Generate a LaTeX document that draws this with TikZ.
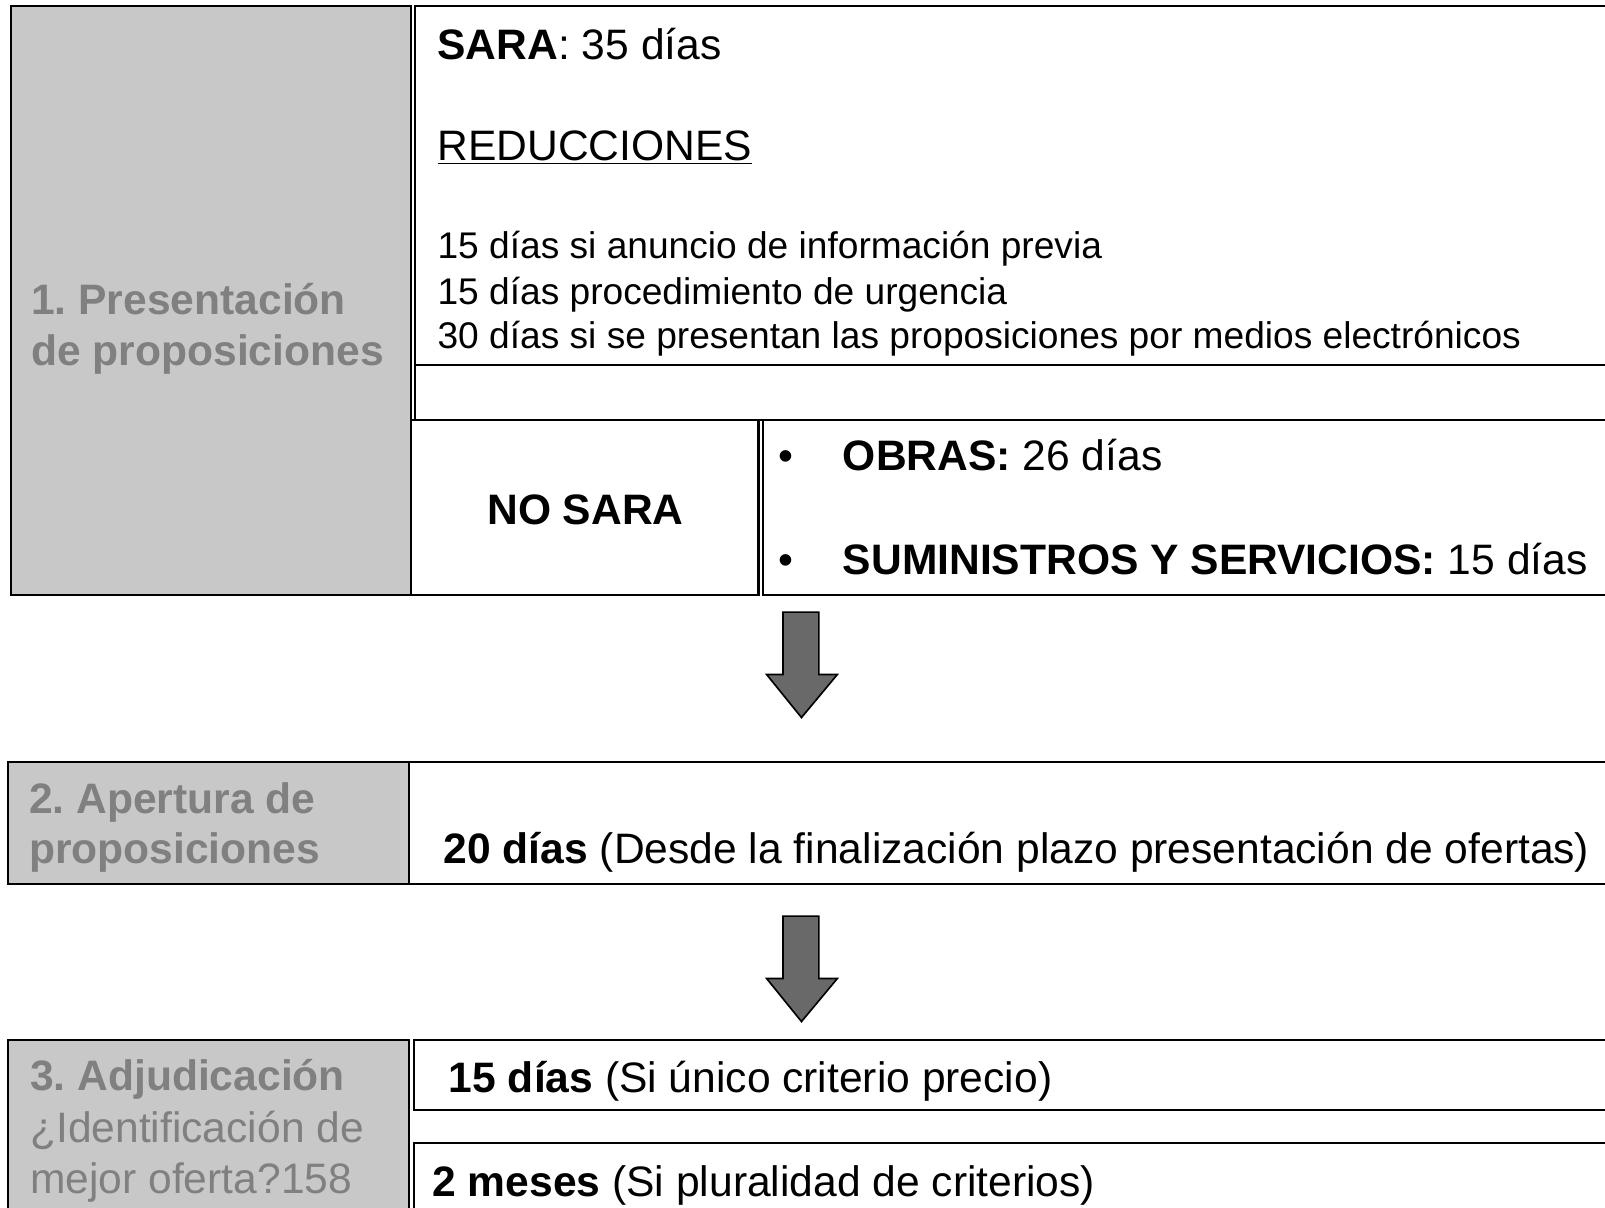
\documentclass[tikz,border=0pt]{standalone}
\usepackage{fontspec}
\setmainfont{Liberation Sans}
\frenchspacing
\definecolor{cellgray}{RGB}{200,200,200}
\definecolor{stagegray}{RGB}{128,128,128}
\definecolor{arrowgray}{RGB}{105,105,105}
\tikzset{every picture/.style={line width=0.75pt}}
\tikzset{
	cell/.style={draw, line width=1.5pt},
	graycell/.style={cell, fill=cellgray},
	bodytext/.style={anchor=base west, inner sep=0pt, font=\fontsize{31.2}{36}\selectfont},
	smalltext/.style={bodytext, font=\fontsize{27.2}{32}\selectfont},
	stagetext/.style={bodytext, text=stagegray},
	blockarrow/.style={draw, fill=arrowgray, line width=1.2pt, line join=miter}}

\begin{document}
\begin{tikzpicture}[x=0.75pt,y=0.75pt,yscale=-1,xscale=1]
	\useasboundingbox (0,0) rectangle (1568,1180);
	\clip (0,0) rectangle (1568,1180);

	%Shape: Rectangle [stage 1]
	\draw[graycell] (11,6) rectangle (401.5,581);
	%Shape: Rectangle [SARA]
	\draw[cell] (405.5,6) rectangle (1580,357);
	\draw[cell] (405.5,6) rectangle (1580,410);
	%Shape: Rectangle [NO SARA]
	\draw[cell] (401.5,410) rectangle (741,581);
	%Shape: Rectangle [bullets]
	\draw[cell] (745.5,410) rectangle (1580,581);

	%Shape: Rectangle [stage 2]
	\draw[graycell] (8,744) rectangle (400,864);
	\draw[cell] (400,744) rectangle (1580,864);

	%Shape: Rectangle [stage 3]
	\draw[graycell] (8,1016) rectangle (400,1200);
	\draw[cell] (404,1016) rectangle (1580,1084);
	\draw[cell] (404,1117) rectangle (1580,1200);

	%Shape: Down Arrow
	\draw[blockarrow] (765,598) -- (800,598) -- (800,659) -- (818,659) -- (783,701) -- (749,659) -- (765,659) -- cycle;
	%Shape: Down Arrow
	\draw[blockarrow] (765,895) -- (800,895) -- (800,956) -- (818,956) -- (783,998) -- (749,956) -- (765,956) -- cycle;

	% Text Node
	\node[stagetext] (stage1a) at (30,307) {\bfseries 1. Presentación};
	\node[stagetext] (stage1b) at (30,357) {\bfseries de proposiciones};
	% Text Node
	\node[bodytext] (sara) at (427,58) {\textbf{SARA}: 35 días};
	\node[bodytext] (reduc) at (427,157) {\underline{REDUCCIONES}};
	\node[smalltext] (red1) at (427,253) {15 días si anuncio de información previa};
	\node[smalltext] (red2) at (427,297) {15 días procedimiento de urgencia};
	\node[smalltext] (red3) at (427,340) {30 días si se presentan las proposiciones por medios electrónicos};
	% Text Node
	\node[bodytext, anchor=base] (nosara) at (572,512) {\bfseries NO SARA};
	\node[bodytext, anchor=base] (bul1) at (768,460) {•};
	\node[bodytext] (obras) at (823,460) {\textbf{OBRAS:} 26 días};
	\node[bodytext, anchor=base] (bul2) at (768,561) {•};
	\node[bodytext] (sumin) at (823,561) {\textbf{SUMINISTROS Y SERVICIOS:} 15 días};

	% Text Node
	\node[stagetext] (stage2a) at (28,795) {\bfseries 2. Apertura de};
	\node[stagetext] (stage2b) at (28,844) {\bfseries proposiciones};
	\node[bodytext] (plazo2) at (433,844) {\textbf{20 días} (Desde la finalización plazo presentación de ofertas)};

	% Text Node
	\node[stagetext] (stage3a) at (29,1065) {\bfseries 3. Adjudicación};
	\node[stagetext] (stage3b) at (29,1116) {¿Identificación de};
	\node[stagetext] (stage3c) at (29,1166) {mejor oferta?158};
	\node[bodytext] (plazo3a) at (438,1067) {\textbf{15 días} (Si único criterio precio)};
	\node[bodytext] (plazo3b) at (422,1169) {\textbf{2 meses} (Si pluralidad de criterios)};

\end{tikzpicture}
\end{document}
